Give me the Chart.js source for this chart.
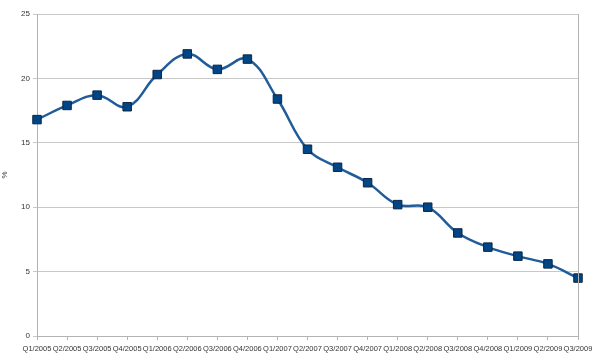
<!DOCTYPE html>
<html>
<head>
<meta charset="utf-8">
<script src="https://cdn.jsdelivr.net/npm/chart.js@4"></script>
<style>
  html, body { margin: 0; padding: 0; background: #fff; }
  #wrap { width: 600px; height: 363px; }
</style>
</head>
<body>
<div id="wrap"><canvas id="myChart"></canvas></div>
<script>
// quarters on the x axis
const quarters = ['Q1/2005', 'Q2/2005', 'Q3/2005', 'Q4/2005', 'Q1/2006', 'Q2/2006', 'Q3/2006', 'Q4/2006',
  'Q1/2007', 'Q2/2007', 'Q3/2007', 'Q4/2007', 'Q1/2008', 'Q2/2008', 'Q3/2008', 'Q4/2008',
  'Q1/2009', 'Q2/2009', 'Q3/2009'];
// percent values
const values = [16.8, 17.9, 18.7, 17.8, 20.3, 21.9, 20.7, 21.5, 18.4, 14.5, 13.1, 11.9,
  10.2, 10.0, 8.0, 6.9, 6.2, 5.6, 4.5];
const yTicks = [0, 5, 10, 15, 20, 25];

// draws the thin frame line on the right of the plot
const rightBorder = {
  id: 'rightBorder',
  afterDraw(chart) {
    const a = chart.chartArea;
    const ctx = chart.ctx;
    ctx.save();
    ctx.strokeStyle = '#b3b3b3';
    ctx.lineWidth = 1;
    ctx.beginPath();
    ctx.moveTo(Math.round(a.right) + 0.5, a.top);
    ctx.lineTo(Math.round(a.right) + 0.5, a.bottom);
    ctx.stroke();
    ctx.restore();
  }
};

const ctx = document.getElementById('myChart').getContext('2d');
new Chart(ctx, {
  type: 'line',
  data: {
    labels: quarters,
    datasets: [{
      data: values,
      borderColor: '#1f5c99',
      borderWidth: 2.5,
      tension: 0.4,
      pointStyle: 'rect',
      pointRadius: 6,
      pointBackgroundColor: '#004586',
      pointBorderColor: '#0b2645',
      pointBorderWidth: 1
    }]
  },
  options: {
    responsive: true,
    maintainAspectRatio: false,
    animation: false,
    layout: { padding: { left: 0, top: 14, right: 22, bottom: 0 } },
    plugins: { legend: { display: false }, tooltip: { enabled: false } },
    scales: {
      x: {
        offset: false,
        grid: { drawOnChartArea: false, color: '#b3b3b3', tickLength: 4 },
        border: { color: '#b3b3b3' },
        ticks: {
          autoSkip: false, maxRotation: 0, minRotation: 0, padding: 4,
          color: '#333', font: { family: 'Liberation Sans', size: 7.5 }
        },
        afterFit(axis) { axis.height = 27; }
      },
      y: {
        min: 0, max: 25,
        afterBuildTicks(axis) { axis.ticks = yTicks.map(v => ({ value: v })); },
        grid: { color: '#c8c8c8', tickLength: 4 },
        border: { color: '#b3b3b3' },
        ticks: { padding: 3, color: '#333', font: { family: 'Liberation Sans', size: 8 } },
        title: { display: true, text: '%', color: '#333', padding: 0, font: { family: 'Liberation Sans', size: 8 } },
        afterFit(axis) { axis.width = 37; }
      }
    }
  },
  plugins: [rightBorder]
});
</script>
</body>
</html>
